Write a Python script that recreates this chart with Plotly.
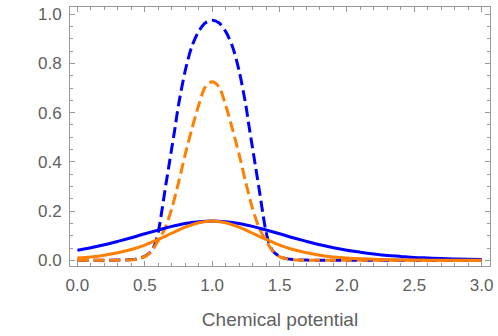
import plotly.graph_objects as go

# Solid curves
x_solid = [0.0, 0.1, 0.2, 0.3, 0.4, 0.5, 0.6, 0.7, 0.8, 0.9, 1.0, 1.1, 1.2, 1.3, 1.4, 1.5,
           1.6, 1.7, 1.8, 1.9, 2.0, 2.1, 2.2, 2.3, 2.4, 2.5, 2.6, 2.7, 2.8, 2.9, 3.0]
blue_solid = [0.041, 0.051, 0.063, 0.077, 0.092, 0.108, 0.123, 0.138, 0.150, 0.157, 0.160,
              0.157, 0.150, 0.138, 0.123, 0.108, 0.092, 0.077, 0.063, 0.051, 0.041,
              0.033, 0.026, 0.020, 0.016, 0.012, 0.0097, 0.0075, 0.0058, 0.0045, 0.0035]
orange_solid = [0.0093, 0.014, 0.021, 0.031, 0.044, 0.062, 0.085, 0.110, 0.135, 0.153, 0.160,
                0.153, 0.135, 0.110, 0.085, 0.062, 0.044, 0.031, 0.021, 0.014, 0.0093,
                0.0062, 0.0041, 0.0027, 0.0018, 0.0012, 0.0008, 0.0005, 0.0003, 0.0002, 0.0001]

# Dashed curves
x_blue_dash = [0.0, 0.2, 0.3, 0.4, 0.45, 0.5, 0.55, 0.575, 0.6, 0.625, 0.65, 0.675, 0.7, 0.725,
               0.75, 0.8, 0.85, 0.9, 0.95, 1.0, 1.05, 1.1, 1.15, 1.2, 1.25, 1.275, 1.3, 1.325,
               1.35, 1.375, 1.4, 1.425, 1.45, 1.5, 1.55, 1.6, 1.7, 1.8, 2.0, 3.0]
blue_dash = [0.0, 0.0003, 0.001, 0.003, 0.007, 0.016, 0.038, 0.065, 0.115, 0.195, 0.285, 0.37,
             0.455, 0.54, 0.63, 0.77, 0.87, 0.93, 0.965, 0.975, 0.965, 0.93, 0.87, 0.77, 0.63,
             0.54, 0.455, 0.37, 0.285, 0.195, 0.115, 0.065, 0.038, 0.016, 0.007, 0.003, 0.001,
             0.0003, 0.0, 0.0]
x_orange_dash = [0.0, 0.3, 0.4, 0.45, 0.5, 0.55, 0.6, 0.65, 0.7, 0.75, 0.8, 0.85, 0.9, 0.95,
                 1.0, 1.05, 1.1, 1.15, 1.2, 1.25, 1.3, 1.35, 1.4, 1.45, 1.5, 1.55, 1.6, 1.7,
                 2.0, 3.0]
orange_dash = [0.0, 0.0005, 0.002, 0.006, 0.015, 0.038, 0.08, 0.13, 0.21, 0.315, 0.43, 0.535,
               0.63, 0.705, 0.725, 0.705, 0.63, 0.535, 0.43, 0.315, 0.21, 0.13, 0.08, 0.038,
               0.015, 0.006, 0.002, 0.0005, 0.0, 0.0]

x_ticks = [0.0, 0.5, 1.0, 1.5, 2.0, 2.5, 3.0]
y_ticks = [0.0, 0.2, 0.4, 0.6, 0.8, 1.0]

BLUE = "#0000ff"
ORANGE = "#ff8000"
GRAY = "#999999"
TXT = "#606060"
FONT = "Liberation Sans, Arial, sans-serif"

fig = go.Figure()
fig.add_trace(go.Scatter(x=x_blue_dash, y=blue_dash, mode="lines",
                         line=dict(color=BLUE, width=3, dash="11px,5px", shape="spline", smoothing=0.8)))
fig.add_trace(go.Scatter(x=x_orange_dash, y=orange_dash, mode="lines",
                         line=dict(color=ORANGE, width=3, dash="11px,5px", shape="spline", smoothing=0.8)))
fig.add_trace(go.Scatter(x=x_solid, y=blue_solid, mode="lines",
                         line=dict(color=BLUE, width=3, shape="spline")))
fig.add_trace(go.Scatter(x=x_solid, y=orange_solid, mode="lines",
                         line=dict(color=ORANGE, width=3, shape="spline")))

axis_common = dict(showline=True, linecolor=GRAY, linewidth=1, mirror="ticks",
                   ticks="inside", ticklen=5, tickcolor=GRAY, tickwidth=1,
                   showgrid=False, zeroline=False,
                   tickfont=dict(family=FONT, size=17, color=TXT))

fig.update_layout(
    width=498, height=336,
    margin=dict(l=70, r=7, t=5, b=70),
    plot_bgcolor="white", paper_bgcolor="white",
    showlegend=False,
    xaxis=dict(range=[-0.055, 3.062], tickvals=x_ticks, tickformat=".1f",
               minor=dict(dtick=0.1, tick0=0, ticks="inside", ticklen=3, tickcolor=GRAY),
               ticklabelstandoff=4,
               title=dict(text="Chemical potential", standoff=18,
                          font=dict(family=FONT, size=19, color=TXT)),
               **axis_common),
    yaxis=dict(range=[-0.023, 1.029], tickvals=y_ticks, tickformat=".1f",
               minor=dict(dtick=0.05, tick0=0, ticks="inside", ticklen=3, tickcolor=GRAY),
               ticklabelstandoff=4,
               **axis_common),
)

fig.write_html("out.html")
